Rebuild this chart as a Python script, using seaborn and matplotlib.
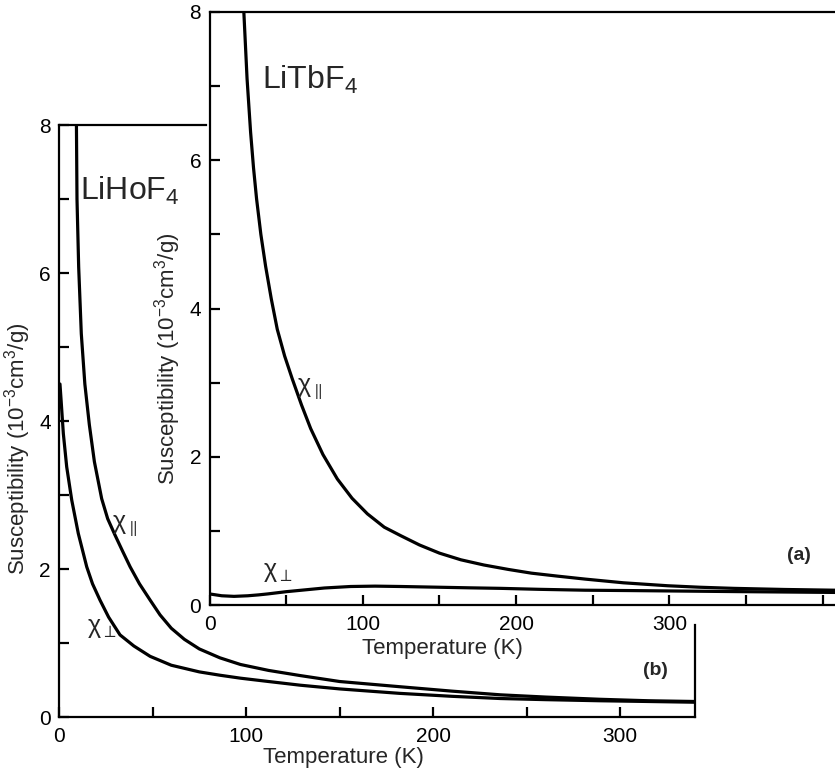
import matplotlib
matplotlib.use("Agg")
import matplotlib.pyplot as plt
import numpy as np
import pandas as pd
import seaborn as sns
from matplotlib.ticker import FixedLocator, MultipleLocator

# LiHoF4 (panel b), temperature in K, susceptibility in 1e-3 cm^3/g
ho_par_T = [9.3, 9.6, 10.5, 11.9, 13.8, 16.2, 18.9, 22.8, 26, 29.9, 34, 38.0, 43, 48.7, 54, 60, 67, 75,
            86, 97, 112, 129, 150, 182, 210, 236, 260, 289, 315, 340]
ho_par = [8.0, 7.0, 6.08, 5.18, 4.5, 3.95, 3.45, 2.95, 2.68, 2.46, 2.24, 2.03, 1.80, 1.58, 1.38, 1.20, 1.05, 0.92,
          0.80, 0.71, 0.63, 0.56, 0.48, 0.41, 0.35, 0.30, 0.27, 0.24, 0.22, 0.21]
ho_perp_T = [0.5, 1.1, 2.3, 4.1, 6.8, 10.3, 14.8, 17.9, 21.9, 26.5, 32.6, 40, 48.7, 60, 75, 86, 97, 112,
             129, 150, 182, 210, 236, 260, 289, 315, 340]
ho_perp = [4.5, 4.28, 3.83, 3.38, 2.93, 2.48, 2.03, 1.80, 1.58, 1.35, 1.11, 0.96, 0.82, 0.70, 0.61, 0.565, 0.525, 0.48,
           0.43, 0.38, 0.32, 0.28, 0.25, 0.235, 0.22, 0.21, 0.20]

# LiTbF4 (panel a)
tb_par_T = [22.4, 24.5, 26.8, 28.7, 30.7, 33.5, 36.6, 40.3, 44.2, 49, 54, 60, 66, 74, 83.4, 93, 103, 114,
            124.8, 137, 150, 164, 179, 195, 210, 227, 245, 270, 299, 320, 342, 375, 408]
tb_par = [8.0, 7.1, 6.38, 5.9, 5.48, 5.0, 4.57, 4.13, 3.72, 3.36, 3.05, 2.70, 2.38, 2.03, 1.70, 1.44, 1.23, 1.05,
          0.935, 0.81, 0.70, 0.61, 0.54, 0.48, 0.43, 0.39, 0.35, 0.30, 0.26, 0.24, 0.225, 0.21, 0.20]
tb_perp_T = [0, 8, 16, 25, 32, 38, 44, 50, 60, 75, 92, 108, 125, 150, 170, 190, 215, 245, 275, 300, 350, 408]
tb_perp = [0.15, 0.125, 0.117, 0.125, 0.137, 0.15, 0.165, 0.18, 0.20, 0.23, 0.25, 0.255, 0.25, 0.24, 0.232, 0.225,
           0.212, 0.20, 0.195, 0.19, 0.18, 0.17]

X_LABEL = "Temperature (K)"
Y_LABEL = r"Susceptibility (10$^{-3}$cm$^{3}$/g)"
X_MAJOR = [0, 100, 200, 300]
X_MINOR = [50, 150, 250, 350, 400]

sns.set_theme(style="ticks")
plt.rcParams["font.family"] = ["Liberation Sans", "DejaVu Sans"]
plt.rcParams["mathtext.fontset"] = "custom"
plt.rcParams["mathtext.rm"] = "Liberation Sans"
plt.rcParams["mathtext.it"] = "Liberation Sans:italic"
plt.rcParams["mathtext.bf"] = "Liberation Sans:bold"

LW_AX = 1.6
LW_CURVE = 2.3
CHI_PAR = "χ$_{\\parallel}$"
CHI_PERP = "χ$_{\\perp}$"


def curve_frame(t, chi, name):
    return pd.DataFrame({"T": t, "chi": chi, "curve": name})


def style_axes(ax, xmax):
    ax.set_xlim(0, xmax)
    ax.set_ylim(0, 8)
    ax.xaxis.set_major_locator(FixedLocator(X_MAJOR))
    ax.xaxis.set_minor_locator(FixedLocator(X_MINOR))
    ax.yaxis.set_major_locator(MultipleLocator(2))
    ax.yaxis.set_minor_locator(MultipleLocator(1))
    ax.tick_params(which="both", direction="in", length=7.5, width=LW_AX, colors="black",
                   labelsize=15, top=False, right=False)
    ax.tick_params(axis="x", which="major", pad=7)
    ax.tick_params(axis="y", which="major", pad=6)
    for sp in ax.spines.values():
        sp.set_linewidth(LW_AX)
        sp.set_color("black")
    ax.set_xlabel(X_LABEL, fontsize=16)
    ax.set_ylabel(Y_LABEL, fontsize=16)
    ax.set_facecolor("white")


fig = plt.figure(figsize=(8.35, 7.74), dpi=100)
fig.patch.set_facecolor("white")

# back panel (b): LiHoF4
ax_b = fig.add_axes([0.0707, 0.0736, 0.7617, 0.7649])
ho = pd.concat([curve_frame(ho_par_T, ho_par, "par"), curve_frame(ho_perp_T, ho_perp, "perp")])
sns.lineplot(data=ho, x="T", y="chi", units="curve", estimator=None, sort=False,
             color="black", linewidth=LW_CURVE, ax=ax_b)
style_axes(ax_b, 340)
ax_b.spines["top"].set_bounds(0, 78.5)
ax_b.spines["right"].set_bounds(0, 1.24)
ax_b.xaxis.set_label_coords(0.447, -0.05)
ax_b.yaxis.set_label_coords(-0.041, 0.453)
ax_b.text(11.2, 6.99, r"LiHoF$_4$", fontsize=23, ha="left", va="baseline")
ax_b.text(28.5, 2.55, CHI_PAR, fontsize=18, ha="left", va="baseline")
ax_b.text(15.0, 1.14, CHI_PERP, fontsize=18, ha="left", va="baseline")
ax_b.text(318.7, 0.57, "(b)", fontsize=14, fontweight="bold", ha="center", va="baseline")

# front panel (a): LiTbF4
ax_a = fig.add_axes([0.2509, 0.2183, 0.7491, 0.7662])
tb = pd.concat([curve_frame(tb_par_T, tb_par, "par"), curve_frame(tb_perp_T, tb_perp, "perp")])
sns.lineplot(data=tb, x="T", y="chi", units="curve", estimator=None, sort=False,
             color="black", linewidth=LW_CURVE, ax=ax_a)
style_axes(ax_a, 408)
ax_a.spines["right"].set_visible(False)
ax_a.xaxis.set_label_coords(0.373, -0.055)
ax_a.yaxis.set_label_coords(-0.042, 0.415)
ax_a.text(34, 6.96, r"LiTbF$_4$", fontsize=23, ha="left", va="baseline")
ax_a.text(56.9, 2.88, CHI_PAR, fontsize=18, ha="left", va="baseline")
ax_a.text(35, 0.38, CHI_PERP, fontsize=18, ha="left", va="baseline")
ax_a.text(384.5, 0.61, "(a)", fontsize=14, fontweight="bold", ha="center", va="baseline")

fig.savefig("out.png", dpi=100, facecolor="white")
